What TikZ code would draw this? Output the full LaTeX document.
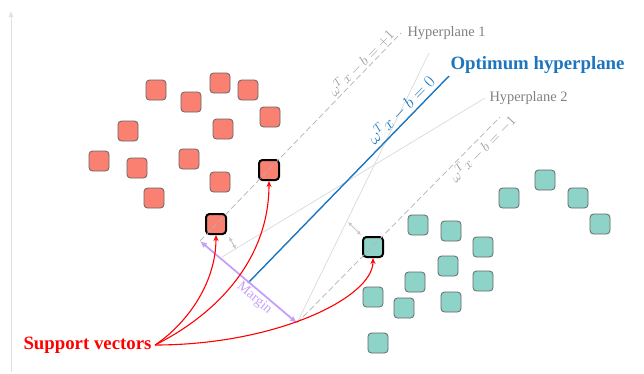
\documentclass[tikz,border=0pt]{standalone}
\usepackage{fontspec}
\setmainfont{Liberation Serif}
\usetikzlibrary{arrows.meta, positioning, calc}
\definecolor{salmon}{RGB}{250,128,114}
\definecolor{svmteal}{RGB}{141,211,199}
\definecolor{optblue}{RGB}{28,117,190}
\definecolor{lavender}{RGB}{196,160,250}
\tikzstyle{sample} = [rectangle, rounded corners=3.5pt, minimum size=20pt, inner sep=0pt,
                      draw=black!60, line width=0.8pt]
\tikzstyle{redpt} = [sample, fill=salmon]
\tikzstyle{tealpt} = [sample, fill=svmteal]
\tikzstyle{support} = [draw=black, line width=2pt]
\tikzstyle{hyper} = [draw=black!15, line width=0.7pt]
\tikzstyle{bound} = [draw=black!30, dash pattern=on 6pt off 3pt, line width=0.7pt]
\tikzstyle{optline} = [draw=optblue, line width=1.4pt]
\tikzstyle{svarrow} = [draw=red, line width=1.1pt, -{Stealth[length=6pt, width=5pt]}]
\tikzstyle{gap} = [draw=black!22, line width=1pt, {Latex[length=4pt, width=4pt]}-{Latex[length=4pt, width=4pt]}]
\tikzstyle{lbl} = [text=black!50, font=\fontsize{14.4}{16}\selectfont]
\tikzstyle{eqlbl} = [text=black!40, font=\fontsize{15}{17}\selectfont, inner sep=1pt]

\begin{document}
\begin{tikzpicture}[x=1pt, y=-1pt]
    \useasboundingbox (0,0) rectangle (644,373);
    % Axis
    \coordinate (ax0) at (11,372);
    \coordinate (ax1) at (11,11);
    \draw[draw=black!12, line width=1pt, -{Latex[length=6pt, width=5pt]}] (ax0) -- (ax1);

    % Class +1 samples
    \node[redpt] (r1) at (156,90) {};
    \node[redpt] (r2) at (191,102) {};
    \node[redpt] (r3) at (220,83) {};
    \node[redpt] (r4) at (248,90) {};
    \node[redpt] (r5) at (270,117) {};
    \node[redpt] (r6) at (128,131) {};
    \node[redpt] (r7) at (223,129) {};
    \node[redpt] (r8) at (99,161) {};
    \node[redpt] (r9) at (137,168) {};
    \node[redpt] (r10) at (189,159) {};
    \node[redpt] (r11) at (220,182) {};
    \node[redpt] (r12) at (154,198) {};
    \node[redpt, support] (rs1) at (269,170) {};
    \node[redpt, support] (rs2) at (216,224) {};

    % Class -1 samples
    \node[tealpt] (t1) at (509,198) {};
    \node[tealpt] (t2) at (545,180) {};
    \node[tealpt] (t3) at (578,198) {};
    \node[tealpt] (t4) at (600,224) {};
    \node[tealpt] (t5) at (418,225) {};
    \node[tealpt] (t6) at (451,231) {};
    \node[tealpt] (t7) at (483,247) {};
    \node[tealpt] (t8) at (448,266) {};
    \node[tealpt] (t9) at (415,282) {};
    \node[tealpt] (t10) at (483,281) {};
    \node[tealpt] (t11) at (373,297) {};
    \node[tealpt] (t12) at (404,308) {};
    \node[tealpt] (t13) at (451,302) {};
    \node[tealpt] (t14) at (378,343) {};
    \node[tealpt, support] (ts) at (373,247) {};

    % Line end points
    \coordinate (m1) at (200,241);
    \coordinate (m2) at (297,323);
    \coordinate (p1) at (401,33);
    \coordinate (n1) at (500,117);
    \coordinate (o1) at (248,283);
    \coordinate (o2) at (449,76);
    \coordinate (h1) at (429,53);
    \coordinate (h2a) at (222,257);
    \coordinate (h2b) at (485,98);

    % Other hyperplanes
    \draw[hyper] (m2) -- (h1);
    \draw[hyper] (h2a) -- (h2b);

    % Margin boundaries
    \draw[bound] (m1) -- node[eqlbl, pos=0.83, sloped, above] {$\omega^T x - b = +1$} (p1);
    \draw[bound] (m2) -- node[eqlbl, pos=0.88, sloped, below=1pt] {$\omega^T x - b = -1$} (n1);

    % Optimum hyperplane
    \draw[optline] (o1) -- node[pos=0.8, sloped, above=1.5pt, inner sep=1pt, text=optblue,
        font=\fontsize{18}{20}\selectfont] {$\omega^T x - b = 0$} (o2);

    % Distances to the other hyperplanes
    \coordinate (g1) at (236,249);
    \coordinate (g2) at (348,222);
    \draw[gap] ($(rs2.south east)+(2,2)$) -- (g1);
    \draw[gap] (g2) -- ($(ts.north west)+(-1,-1)$);

    % Margin
    \draw[draw=lavender, line width=1.8pt, {Latex[length=7pt, width=6pt]}-{Latex[length=7pt, width=6pt]}]
        (m1) -- node[pos=0.62, sloped, below, inner sep=2pt, text=lavender,
        font=\fontsize{14}{16}\selectfont] {Margin} (m2);

    % Labels
    \node[lbl, right=3pt of p1] {Hyperplane 1};
    \node[lbl, right=1pt of h2b] {Hyperplane 2};
    \node[anchor=west, text=optblue, font=\bfseries\fontsize{18.8}{21}\selectfont] (optl) at (447,65) {Optimum hyperplane};

    % Support vectors
    \node[anchor=east, text=red, font=\bfseries\fontsize{18.8}{21}\selectfont] (svl) at (155,345) {Support vectors};
    \draw[svarrow] (svl.east) .. controls +(30,-20) and +(0,50) .. (rs2.south);
    \draw[svarrow] (svl.east) .. controls +(60,-30) and +(0,80) .. (rs1.south);
    \draw[svarrow] (svl.east) .. controls +(120,0) and +(0,40) .. (ts.south);
\end{tikzpicture}
\end{document}
